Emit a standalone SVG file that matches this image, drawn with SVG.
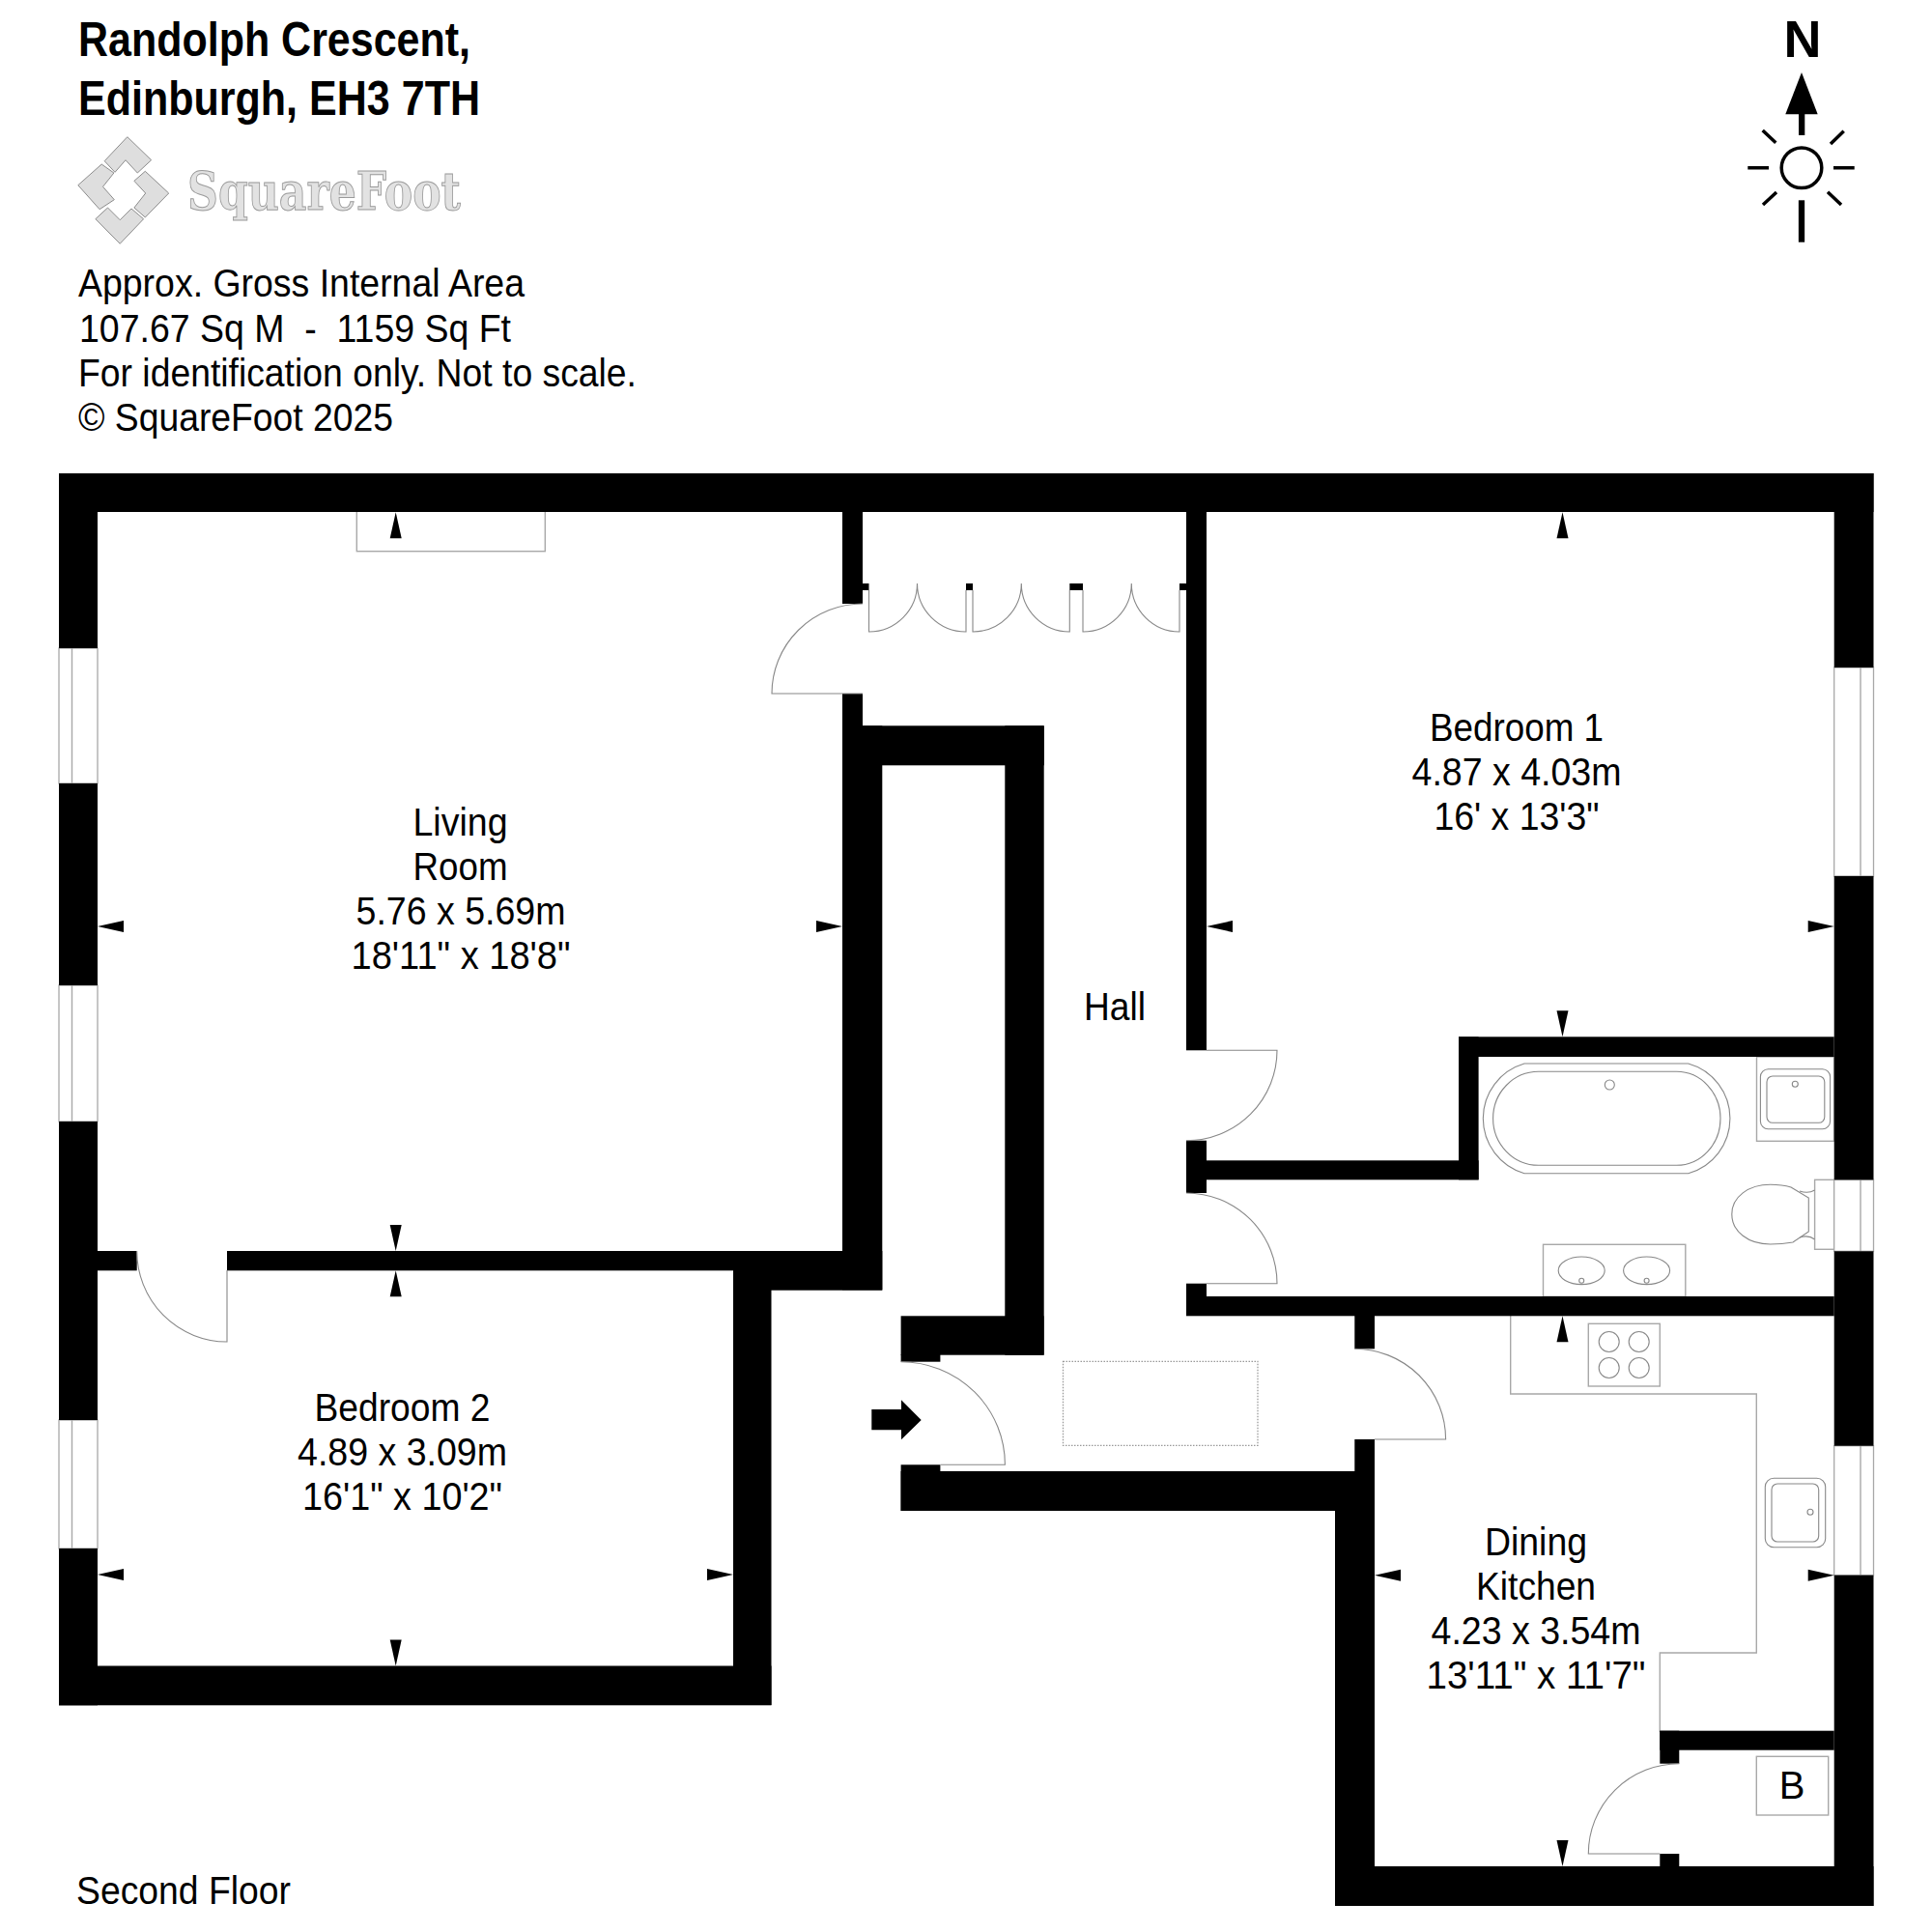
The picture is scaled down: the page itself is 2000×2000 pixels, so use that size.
<svg xmlns="http://www.w3.org/2000/svg" width="2000" height="2000" viewBox="0 0 2000 2000">
<style>
text{font-family:"Liberation Sans",Arial,sans-serif;font-size:40px;fill:#000}
.m{text-anchor:middle}
.t{font-size:50px;font-weight:bold}
.l{fill:none;stroke:#888;stroke-width:1.1}
.k{fill:none;stroke:#a8a8a8;stroke-width:1.4}
.w{fill:#fff;stroke:#a8a8a8;stroke-width:1.3}
.logo{fill:#dedede;stroke:#8c8c8c;stroke-width:1}
</style>
<defs>
<polygon id="au" points="0,0 6,27 -6,27" fill="#000"/>
<polygon id="ad" points="0,0 6,-27 -6,-27" fill="#000"/>
<polygon id="al" points="0,0 27,-6 27,6" fill="#000"/>
<polygon id="ar" points="0,0 -27,-6 -27,6" fill="#000"/>
</defs>
<rect width="2000" height="2000" fill="#fff"/>

<g id="title">
<text class="t" x="81" y="58" textLength="406" lengthAdjust="spacingAndGlyphs">Randolph Crescent,</text>
<text class="t" x="81" y="119" textLength="416" lengthAdjust="spacingAndGlyphs">Edinburgh, EH3 7TH</text>
</g>
<g id="logo">
<polygon class="logo" points="131.8,141.7 156.6,165.7 142.3,179 130,165.7 119,178.3 108.2,166.7"/>
<polygon class="logo" points="80.8,191.7 105.2,170 117.9,179 106.5,193.3 118.3,206.7 103.1,216.7"/>
<polygon class="logo" points="150.3,177.3 174.7,200 150.3,225 138.9,215 150.7,200 138.9,187.3"/>
<polygon class="logo" points="124.2,252.3 148.6,226.7 136,216 124.2,227.7 111.5,215 98.9,226.7"/>
<text x="194" y="217" textLength="283" lengthAdjust="spacingAndGlyphs" style="font-family:'DejaVu Serif',serif;font-weight:bold;font-size:55px;fill:#e2e2e2;stroke:#999;stroke-width:1">SquareFoot</text>
</g>
<g id="info">
<text x="81" y="307" textLength="462" lengthAdjust="spacingAndGlyphs">Approx. Gross Internal Area</text>
<text x="82" y="354" textLength="447" lengthAdjust="spacingAndGlyphs" xml:space="preserve">107.67 Sq M  -  1159 Sq Ft</text>
<text x="81" y="400" textLength="578" lengthAdjust="spacingAndGlyphs">For identification only. Not to scale.</text>
<text x="81" y="446" textLength="326" lengthAdjust="spacingAndGlyphs">© SquareFoot 2025</text>
</g>
<g id="compass">
<text class="m" x="1866" y="59" textLength="39" lengthAdjust="spacingAndGlyphs" style="font-size:53px;font-weight:bold">N</text>
<polygon points="1865,75 1881.7,118.3 1848.3,118.3" fill="#000"/>
<rect x="1862" y="118" width="6.3" height="22" fill="#000"/>
<circle cx="1865" cy="173.7" r="20.8" fill="none" stroke="#000" stroke-width="3.5"/>
<g stroke="#000" stroke-width="3.5" fill="none">
<path d="M1809.3,173.7H1831M1898,173.7H1919.7M1824.7,135L1838.3,147.7M1908.7,135.7L1895,149M1839,199L1825,212M1892,198.7L1906,212"/>
<path d="M1865,207.3V250.7" stroke-width="6.3"/>
</g>
</g>

<g id="fixtures">
<rect class="k" x="369.3" y="525" width="195" height="45.7"/>
<rect x="1100.5" y="1409.3" width="201.5" height="87" fill="none" stroke="#999" stroke-width="1.3" stroke-dasharray="1.5 1.5"/>
<g id="bath">
<path class="l" d="M1578,1101H1747.7A59,59 0 0 1 1747.7,1214.7H1578A59.2,59.2 0 0 1 1578,1101Z"/>
<path class="l" d="M1592.6,1109.3H1735.6A45.4,48.5 0 0 1 1735.6,1206.3H1592.6A47,48.5 0 0 1 1592.6,1109.3Z"/>
<ellipse class="l" cx="1666.3" cy="1123" rx="5" ry="5"/>
</g>
<g id="bath-sink">
<rect class="k" x="1818.5" y="1094" width="80" height="87.3"/>
<rect class="l" x="1822.4" y="1106.7" width="72.2" height="62" rx="8"/>
<rect class="l" x="1829" y="1114" width="59.8" height="48.3" rx="6"/>
<circle class="l" cx="1858.3" cy="1122.3" r="3"/>
</g>
<g id="toilet">
<rect class="k" x="1878.6" y="1221.3" width="20" height="72"/>
<path class="l" d="M1854,1229L1872.3,1240V1275L1856,1286Q1845,1288 1832.6,1288C1810,1288 1792.8,1275 1792.8,1257C1792.8,1239 1810,1226.3 1832.6,1226.3Q1845,1226.3 1854,1229Z"/>
<path class="l" d="M1863,1233Q1872,1236 1878.6,1232M1863,1281Q1872,1278 1878.6,1283"/>
</g>
<g id="vanity">
<rect class="k" x="1597.5" y="1288.3" width="147.3" height="54"/>
<ellipse class="l" cx="1637.2" cy="1315.3" rx="24" ry="14.3"/>
<ellipse class="l" cx="1704.6" cy="1315.3" rx="24" ry="14.3"/>
<circle class="l" cx="1637.2" cy="1325.7" r="2.5"/>
<circle class="l" cx="1704.6" cy="1325.7" r="2.5"/>
</g>
<g id="kitchen-units">
<path class="k" d="M1563.7,1362V1443H1818.3V1711H1718.3V1793"/>
<rect class="k" x="1644.3" y="1370.3" width="74" height="64.7"/>
<circle class="l" cx="1665.7" cy="1389" r="10.5"/>
<circle class="l" cx="1696.7" cy="1389" r="10.5"/>
<circle class="l" cx="1665.7" cy="1416" r="10.5"/>
<circle class="l" cx="1696.7" cy="1416" r="10.5"/>
<rect class="l" x="1827.3" y="1530.3" width="62.4" height="71.4" rx="9"/>
<rect class="l" x="1834" y="1536" width="48.7" height="60" rx="6"/>
<circle class="l" cx="1874" cy="1565.3" r="3"/>
</g>
<g id="boiler">
<rect class="k" x="1818.3" y="1818.3" width="74.4" height="60.7"/>
<text class="m" x="1855" y="1862">B</text>
</g>
</g>

<g id="windows">
<rect class="w" x="61" y="671" width="40" height="140"/><path class="k" d="M74.5,671V811"/>
<rect class="w" x="61" y="1020" width="40" height="141"/><path class="k" d="M74.5,1020V1161"/>
<rect class="w" x="61" y="1470" width="40" height="133"/><path class="k" d="M74.5,1470V1603"/>
<rect class="w" x="1898.7" y="691" width="40.8" height="216"/><path class="k" d="M1926,691V907"/>
<rect class="w" x="1898.7" y="1221.3" width="40.8" height="74"/><path class="k" d="M1926,1221.3V1295.3"/>
<rect class="w" x="1898.7" y="1496.7" width="40.8" height="134"/><path class="k" d="M1926,1496.7V1630.7"/>
</g>

<g id="walls" fill="#000">
<rect x="61" y="490" width="1878.5" height="40"/>
<rect x="61" y="490" width="40" height="181"/>
<rect x="61" y="811" width="40" height="209"/>
<rect x="61" y="1161" width="40" height="309"/>
<rect x="61" y="1603" width="40" height="162.3"/>
<rect x="61" y="1724.5" width="737.5" height="40.8"/>
<rect x="759" y="1295" width="39.5" height="470"/>
<rect x="101" y="1295" width="40.7" height="20.3"/>
<rect x="235" y="1295" width="678" height="20.3"/>
<rect x="798" y="1295" width="115.3" height="40.7"/>
<rect x="872" y="530" width="21" height="95"/>
<rect x="872" y="718" width="21" height="40"/>
<rect x="872" y="751.3" width="41.3" height="584"/>
<rect x="872" y="751.3" width="208.7" height="41"/>
<rect x="1040.3" y="751.3" width="40.4" height="651.4"/>
<rect x="932.6" y="1362.3" width="148" height="40.4"/>
<rect x="932.6" y="1402" width="40.8" height="7.7"/>
<rect x="932.6" y="1516.3" width="40.8" height="47.7"/>
<rect x="932.6" y="1523" width="490.4" height="41"/>
<rect x="1382" y="1523" width="41" height="450"/>
<rect x="1402.3" y="1490" width="20.7" height="74"/>
<rect x="1402.3" y="1342" width="20.7" height="54.3"/>
<rect x="1228" y="1342" width="670.7" height="20.3"/>
<rect x="1228" y="530" width="21" height="557.3"/>
<rect x="1228" y="1180.7" width="21" height="54.3"/>
<rect x="1228" y="1328.7" width="21" height="33.3"/>
<rect x="1249" y="1201.3" width="281.6" height="20"/>
<rect x="1510" y="1073.3" width="20.6" height="148"/>
<rect x="1510" y="1073.3" width="388.7" height="20.7"/>
<rect x="1898.7" y="490" width="40.8" height="201"/>
<rect x="1898.7" y="907" width="40.8" height="314.3"/>
<rect x="1898.7" y="1295.3" width="40.8" height="201.4"/>
<rect x="1898.7" y="1630.7" width="40.8" height="342.3"/>
<rect x="1382" y="1932" width="557.5" height="41"/>
<rect x="1718.3" y="1791.7" width="180.4" height="20"/>
<rect x="1718.3" y="1791.7" width="20" height="34"/>
<rect x="1718.3" y="1919" width="20" height="13"/>
<rect x="893" y="604" width="6.5" height="7"/>
<rect x="1000" y="604" width="7" height="7"/>
<rect x="1107.3" y="604" width="13.7" height="7"/>
<rect x="1221" y="604" width="7" height="7"/>
</g>

<g id="doors">
<path class="l" d="M893,718H799A94,93 0 0 1 893,625"/>
<path class="l" d="M899.5,611V654A50,50 0 0 0 949.5,604A50.5,50 0 0 0 1000,654V611"/>
<path class="l" d="M1007,611V654A50.3,50 0 0 0 1057.3,604A50,50 0 0 0 1107.3,654V611"/>
<path class="l" d="M1121,611V654A50.3,50 0 0 0 1171.3,604A49.7,50 0 0 0 1221,654V611"/>
<path class="l" d="M235,1315V1389A93.3,94 0 0 1 141.7,1295"/>
<path class="l" d="M1249,1087.3H1322A94,93.4 0 0 1 1228,1180.7"/>
<path class="l" d="M1228,1235A94,93.7 0 0 1 1322,1328.7H1249"/>
<path class="l" d="M932.6,1409.7A107.8,106.6 0 0 1 1040.4,1516.3H973.4"/>
<path class="l" d="M1402.3,1396.3A94.3,93.7 0 0 1 1496.6,1490H1423"/>
<path class="l" d="M1738.3,1825.7A94,93.3 0 0 0 1644.3,1919H1718.3"/>
</g>

<path id="entrance-arrow" fill="#000" d="M902.3,1459H933V1449.3L953.7,1470L933,1490.3V1480.3H902.3Z"/>

<g id="measure-arrows">
<use href="#au" x="409.7" y="530.3"/>
<use href="#ad" x="409.7" y="1295"/>
<use href="#au" x="409.7" y="1315.3"/>
<use href="#ad" x="409.7" y="1724.5"/>
<use href="#al" x="101" y="959"/>
<use href="#ar" x="872" y="959"/>
<use href="#al" x="101" y="1630"/>
<use href="#ar" x="759" y="1630"/>
<use href="#au" x="1617.5" y="530.3"/>
<use href="#ad" x="1617.5" y="1073.3"/>
<use href="#al" x="1249" y="959"/>
<use href="#ar" x="1898.7" y="959"/>
<use href="#au" x="1617.5" y="1362.3"/>
<use href="#ad" x="1617.5" y="1932"/>
<use href="#al" x="1423" y="1630.7"/>
<use href="#ar" x="1898.7" y="1630.7"/>
</g>

<g id="living-room">
<text class="m" x="476.5" y="865" textLength="98" lengthAdjust="spacingAndGlyphs">Living</text>
<text class="m" x="476.5" y="911" textLength="98" lengthAdjust="spacingAndGlyphs">Room</text>
<text class="m" x="477" y="957" textLength="217" lengthAdjust="spacingAndGlyphs">5.76 x 5.69m</text>
<text class="m" x="477" y="1003" textLength="227" lengthAdjust="spacingAndGlyphs">18'11" x 18'8"</text>
</g>
<g id="bedroom-1">
<text class="m" x="1570" y="767" textLength="180" lengthAdjust="spacingAndGlyphs">Bedroom 1</text>
<text class="m" x="1570" y="813" textLength="217" lengthAdjust="spacingAndGlyphs">4.87 x 4.03m</text>
<text class="m" x="1570" y="859" textLength="171" lengthAdjust="spacingAndGlyphs">16' x 13'3"</text>
</g>
<g id="bedroom-2">
<text class="m" x="416.5" y="1471" textLength="182" lengthAdjust="spacingAndGlyphs">Bedroom 2</text>
<text class="m" x="416.5" y="1517" textLength="217" lengthAdjust="spacingAndGlyphs">4.89 x 3.09m</text>
<text class="m" x="416.5" y="1563" textLength="207" lengthAdjust="spacingAndGlyphs">16'1" x 10'2"</text>
</g>
<g id="hall">
<text class="m" x="1154" y="1056" textLength="64" lengthAdjust="spacingAndGlyphs">Hall</text>
</g>
<g id="dining-kitchen">
<text class="m" x="1590" y="1610" textLength="106" lengthAdjust="spacingAndGlyphs">Dining</text>
<text class="m" x="1590" y="1656" textLength="124" lengthAdjust="spacingAndGlyphs">Kitchen</text>
<text class="m" x="1590" y="1702" textLength="217" lengthAdjust="spacingAndGlyphs">4.23 x 3.54m</text>
<text class="m" x="1590" y="1748" textLength="227" lengthAdjust="spacingAndGlyphs">13'11" x 11'7"</text>
</g>
<text id="floor-label" x="79" y="1971" textLength="222" lengthAdjust="spacingAndGlyphs">Second Floor</text>
</svg>
